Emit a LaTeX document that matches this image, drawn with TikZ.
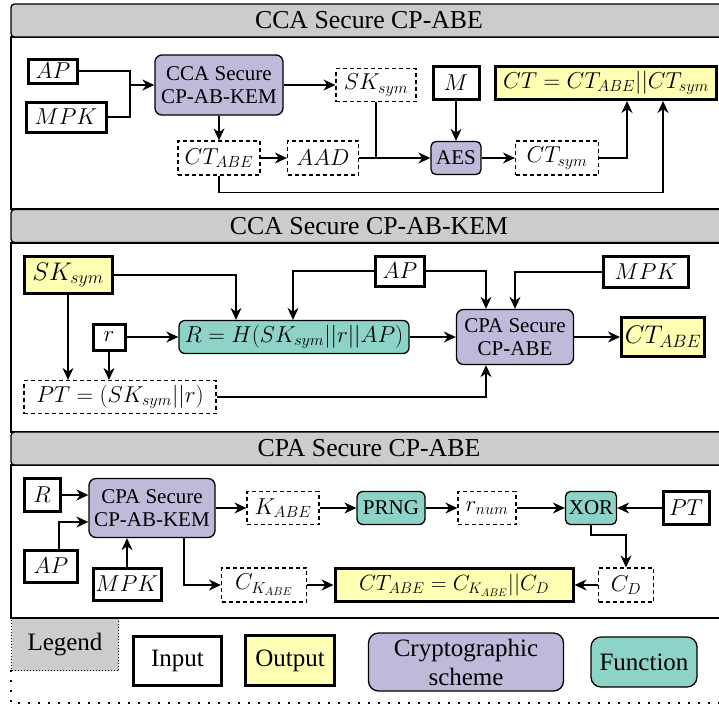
\RequirePackage{fix-cm}
\documentclass[tikz,border=0pt]{standalone}
\usepackage{fontspec}
\setmainfont{Liberation Serif}
\usetikzlibrary{arrows.meta,calc}

\definecolor{hdrgray}{HTML}{CCCCCC}
\definecolor{outyellow}{HTML}{FFFFB3}
\definecolor{schemepurple}{HTML}{BEBADA}
\definecolor{functeal}{HTML}{8DD3C7}

\tikzset{
  x=1pt, y=-1pt,
  base/.style={inner sep=0pt, font=\fontsize{23}{25}\selectfont, align=center},
  txt/.style={font=\fontsize{21}{23.5}\selectfont},
  big/.style={font=\fontsize{25.5}{28}\selectfont},
  inbox/.style={base, draw, line width=3pt, fill=white},
  outbox/.style={base, draw, line width=3pt, fill=outyellow},
  dbox/.style={base, draw, dashed, dash pattern=on 4pt off 3pt, line width=1.2pt, fill=white},
  scheme/.style={base, draw, line width=1.3pt, rounded corners=7pt, fill=schemepurple},
  func/.style={base, draw, line width=1.3pt, rounded corners=6pt, fill=functeal},
  header/.style={draw, line width=1.3pt, rounded corners=3.5pt, fill=hdrgray,
    minimum width=716pt, minimum height=33pt, inner sep=0pt,
    font=\fontsize{25.8}{28}\selectfont},
  frame/.style={draw, line width=1.3pt},
  wire/.style={line width=1.4pt},
  arr/.style={wire, -{Stealth[length=12pt,width=11pt]}},
  legtext/.style={font=\fontsize{25}{28}\selectfont},
  looseline/.style={line width=1.5pt, dash pattern=on 1.5pt off 8.5pt},
}

\begin{document}
\begin{tikzpicture}
\useasboundingbox (0,0) rectangle (719,705);

% ---------- section frames ----------
\draw[frame] (11,37) rectangle (727,209);
\draw[frame] (11,243) rectangle (727,432);
\draw[frame] (11,465) rectangle (727,618);
\node[header] (hdrA) at (369,20.5) {CCA Secure CP-ABE};
\node[header] (hdrB) at (369,226) {CCA Secure CP-AB-KEM};
\node[header] (hdrC) at (369,448.5) {CPA Secure CP-ABE};

% ---------- CCA Secure CP-ABE ----------
\node[inbox, minimum width=49pt, minimum height=24pt] (apA) at (53,71) {$AP$};
\node[inbox, minimum width=80pt, minimum height=30pt] (mpkA) at (66,117) {$MPK$};
\node[scheme, txt, minimum width=128pt, minimum height=60pt] (kemA) at (219,85) {CCA Secure\\CP-AB-KEM};
\node[dbox, minimum width=80pt, minimum height=33pt] (skA) at (376,85) {$SK_{sym}$};
\node[inbox, minimum width=46pt, minimum height=33pt] (mA) at (456,83) {$M$};
\node[outbox, minimum width=221pt, minimum height=33pt] (ctA) at (606,83) {$CT = CT_{ABE}||CT_{sym}$};
\node[dbox, minimum width=82pt, minimum height=34pt] (ctabeA) at (219,158) {$CT_{ABE}$};
\node[dbox, minimum width=71pt, minimum height=34pt] (aadA) at (323,158) {$AAD$};
\node[scheme, txt, minimum width=50pt, minimum height=33pt, rounded corners=5pt] (aesA) at (456,158) {AES};
\node[dbox, minimum width=83pt, minimum height=34pt] (ctsymA) at (557,158) {$CT_{sym}$};
\coordinate (jA) at (130,85);

\draw[wire] (apA.east) -| (jA);
\draw[wire] (mpkA.east) -| (jA);
\draw[arr] (jA) -- (kemA.west);
\draw[arr] (kemA) -- (skA);
\draw[arr] (kemA) -- (ctabeA);
\draw[arr] (ctabeA) -- (aadA);
\draw[arr] (aadA) -- (aesA);
\draw[wire] (skA.south) -- (skA.south |- aesA.west);
\draw[arr] (mA) -- (aesA);
\draw[arr] (aesA) -- (ctsymA);
\draw[arr] (ctsymA.east) -| ([xshift=21pt]ctA.south);
\draw[arr] (ctabeA.south) -- ++(0,17) -| ([xshift=57pt]ctA.south);

% ---------- CCA Secure CP-AB-KEM ----------
\node[outbox, big, minimum width=88pt, minimum height=37pt] (skB) at (68,275) {$SK_{sym}$};
\node[inbox, minimum width=49pt, minimum height=30pt] (apB) at (400,271) {$AP$};
\node[inbox, minimum width=85pt, minimum height=31pt] (mpkB) at (646,272) {$MPK$};
\node[inbox, minimum width=32pt, minimum height=26pt] (rB) at (109,337) {$r$};
\node[func, minimum width=230pt, minimum height=33pt] (hB) at (294,337) {$R = H(SK_{sym}||r||AP)$};
\node[scheme, txt, minimum width=117pt, minimum height=55pt] (cpaB) at (515,337) {CPA Secure\\CP-ABE};
\node[outbox, big, minimum width=83pt, minimum height=39pt] (ctabeB) at (663,337) {$CT_{ABE}$};
\node[dbox, minimum width=192pt, minimum height=33pt] (ptB) at (120,397) {$PT = (SK_{sym}||r)$};

\draw[arr] (skB.east) -| ([xshift=-58pt]hB.north);
\draw[arr] (apB.west) -| ([xshift=-1pt]hB.north);
\draw[arr] (apB.east) -| ([xshift=-29pt]cpaB.north);
\draw[arr] (mpkB.west) -| (cpaB.north);
\draw[arr] (skB.south) -- (skB.south |- ptB.north);
\draw[arr] (rB.south) -- (rB.south |- ptB.north);
\draw[arr] (rB) -- (hB);
\draw[arr] (hB) -- (cpaB);
\draw[arr] (cpaB) -- (ctabeB);
\draw[arr] (ptB.east) -| ([xshift=-29pt]cpaB.south);

% ---------- CPA Secure CP-ABE ----------
\node[inbox, minimum width=36pt, minimum height=33pt] (rC) at (42,495) {$R$};
\node[scheme, txt, minimum width=126pt, minimum height=59pt] (kemC) at (152,508) {CPA Secure\\CP-AB-KEM};
\node[inbox, minimum width=53pt, minimum height=32pt] (apC) at (51,566) {$AP$};
\node[inbox, minimum width=68pt, minimum height=32pt] (mpkC) at (127,584) {$MPK$};
\node[dbox, minimum width=72pt, minimum height=33pt] (kabeC) at (283,508) {$K_{ABE}$};
\node[func, txt, minimum width=68pt, minimum height=33pt] (prngC) at (391,508) {PRNG};
\node[dbox, minimum width=58pt, minimum height=33pt] (rnumC) at (487,508) {$r_{num}$};
\node[func, txt, minimum width=51pt, minimum height=33pt, rounded corners=5pt] (xorC) at (591,508) {XOR};
\node[inbox, minimum width=46pt, minimum height=33pt] (ptC) at (686,508) {$PT$};
\node[dbox, minimum width=85pt, minimum height=34pt] (ckC) at (264,585) {$C_{K_{ABE}}$};
\node[outbox, font=\fontsize{22}{24}\selectfont, minimum width=238pt, minimum height=33pt] (ctabeC) at (454,585) {$CT_{ABE} = C_{K_{ABE}}||C_D$};
\node[dbox, minimum width=55pt, minimum height=34pt] (cdC) at (626,585) {$C_D$};

\draw[arr] (rC.east) -- (rC.east -| kemC.west);
\draw[arr] ([xshift=8pt]apC.north) |- ([yshift=-14pt]kemC.west);
\draw[arr] (mpkC.north) -- (mpkC.north |- kemC.south);
\draw[arr] (kemC) -- (kabeC);
\draw[arr] (kabeC) -- (prngC);
\draw[arr] (prngC) -- (rnumC);
\draw[arr] (rnumC) -- (xorC);
\draw[arr] (ptC) -- (xorC);
\draw[arr] (xorC.south) -- ++(0,10) -| (cdC.north);
\draw[arr] (cdC) -- (ctabeC);
\draw[arr] (ckC) -- (ctabeC);
\draw[arr] ([xshift=32pt]kemC.south) |- (ckC.west);

% ---------- legend ----------
\draw[looseline] (11,618) -- (740,618);
\draw[looseline] (11,670) -- (11,703) -- (740,703);
\node[draw, dotted, line width=1pt, fill=hdrgray, minimum width=107pt, minimum height=52pt,
      inner sep=0pt, anchor=north west, legtext, text depth=0pt] (legL) at (11,618) {\raisebox{6pt}{Legend}};
\node[inbox, legtext, minimum width=88pt, minimum height=49pt] (legIn) at (177.5,661) {Input};
\node[outbox, legtext, minimum width=89pt, minimum height=50pt] (legOut) at (290,660.5) {Output};
\node[scheme, legtext, minimum width=195pt, minimum height=58pt, rounded corners=10pt,
      align=center, font=\fontsize{25}{29}\selectfont] (legCr) at (466,662) {Cryptographic\\scheme};
\node[func, legtext, minimum width=106pt, minimum height=50pt, rounded corners=10pt] (legFn) at (644,662) {Function};
\end{tikzpicture}
\end{document}
